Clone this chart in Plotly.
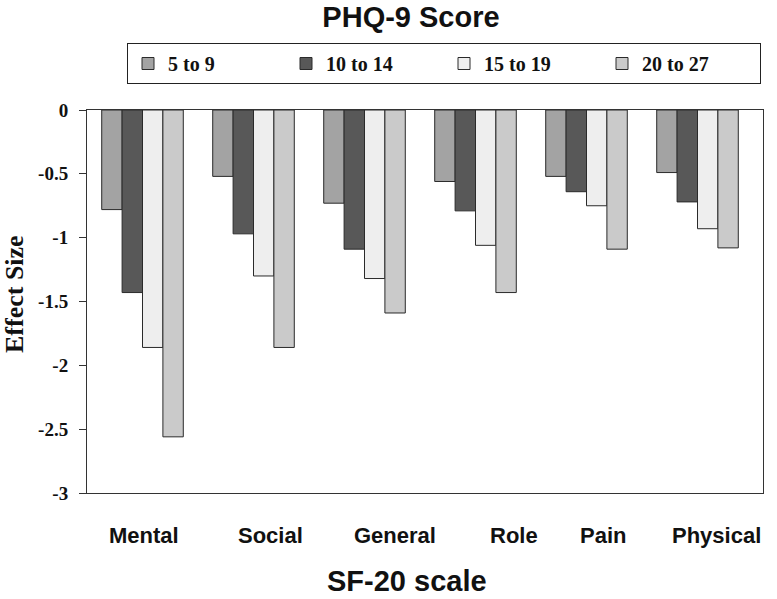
import plotly.graph_objects as go

categories = ["Mental", "Social", "General", "Role", "Pain", "Physical"]
series_names = ["5 to 9", "10 to 14", "15 to 19", "20 to 27"]
s_5_9 = [-0.78, -0.52, -0.73, -0.56, -0.52, -0.49]
s_10_14 = [-1.43, -0.97, -1.09, -0.79, -0.64, -0.72]
s_15_19 = [-1.86, -1.30, -1.32, -1.06, -0.75, -0.93]
s_20_27 = [-2.56, -1.86, -1.59, -1.43, -1.09, -1.08]
y_ticks = [0, -0.5, -1, -1.5, -2, -2.5, -3]
y_tick_labels = ["0", "-0.5", "-1", "-1.5", "-2", "-2.5", "-3"]

colors = ["#a3a3a3", "#585858", "#eeeeee", "#cacaca"]
label_shift = [1, 17, 30, 38, 16, 19]

W, H = 777, 599
L, R, T, B = 87, 14, 110, 106
PW, PH = W - L - R, H - T - B

fig = go.Figure()
for name, vals, col in zip(series_names, [s_5_9, s_10_14, s_15_19, s_20_27], colors):
    fig.add_trace(go.Bar(
        x=categories, y=vals, name="<b>%s</b>" % name,
        marker=dict(color=col, line=dict(color="#2a2a2a", width=1)),
    ))

sans = "Liberation Sans, Arial, sans-serif"
serif = "Liberation Serif, Times New Roman, serif"

for cat, sh in zip(categories, label_shift):
    fig.add_annotation(
        x=cat, xref="x", y=0, yref="paper", yanchor="top",
        yshift=-28, xshift=sh, showarrow=False,
        text="<b>%s</b>" % cat,
        font=dict(family=sans, size=22, color="#111"),
    )

fig.add_annotation(
    x=(407 - L) / PW, xref="paper", y=0, yref="paper", yanchor="top",
    yshift=-70, showarrow=False, xanchor="center",
    text="<b>SF-20 scale</b>",
    font=dict(family=sans, size=29, color="#111"),
)

fig.add_annotation(
    x=(14 - L) / PW, xref="paper", y=(H - B - 294) / PH, yref="paper",
    xanchor="center", yanchor="middle", textangle=-90, showarrow=False,
    text="<b>Effect Size</b>",
    font=dict(family=serif, size=26, color="#111"),
)

fig.update_layout(
    width=W, height=H,
    margin=dict(l=L, r=R, t=T, b=B, autoexpand=False),
    paper_bgcolor="white", plot_bgcolor="white",
    barmode="group", bargap=0.265, bargroupgap=0,
    title=dict(text="<b>PHQ-9 Score</b>", x=411 / W, xanchor="center",
               y=1 - 17 / H, yanchor="middle",
               font=dict(family=sans, size=29, color="#111")),
    legend=dict(
        orientation="h", x=(127 - L) / PW, xanchor="left",
        y=1 + (T - 43) / PH, yanchor="top",
        bordercolor="#222", borderwidth=1, bgcolor="white",
        font=dict(family=serif, size=20, color="#111"),
        entrywidth=113, entrywidthmode="pixels",
        traceorder="normal",
    ),
    showlegend=True,
    xaxis=dict(showticklabels=False, showline=True, mirror=True, automargin=False,
               linecolor="#333", linewidth=1, ticks="", showgrid=False),
    yaxis=dict(range=[-3, 0], tickvals=y_ticks, ticktext=["<b>%s</b>" % t for t in y_tick_labels],
               showline=True, mirror=True, linecolor="#333", linewidth=1, automargin=False,
               showgrid=False, zeroline=False, ticks="outside", ticklen=7,
               tickcolor="#333", ticklabelstandoff=7,
               tickfont=dict(family=serif, size=19, color="#111")),
)

fig.write_html("out.html", config={"displayModeBar": False},
               post_script="document.body.style.margin='0px';")
